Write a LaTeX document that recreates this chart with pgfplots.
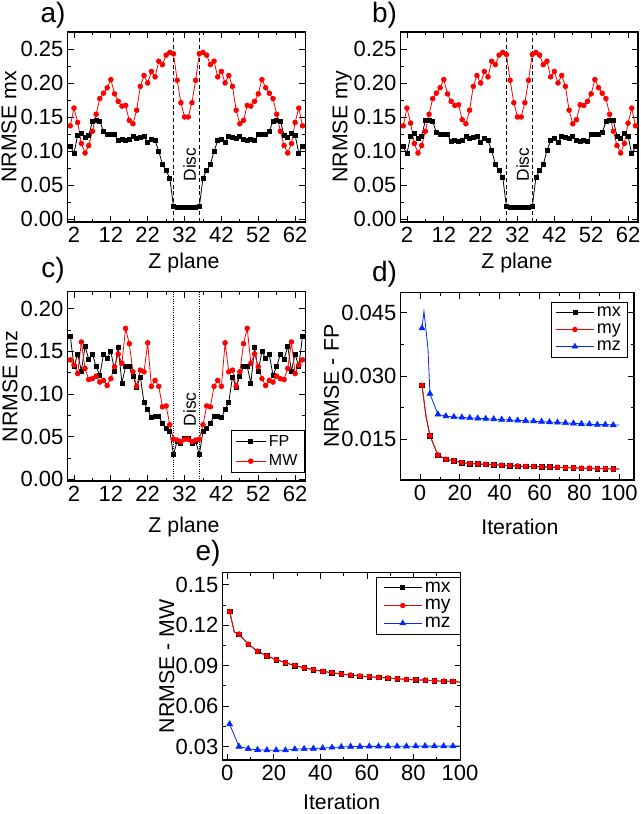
\documentclass[border=0pt]{standalone}
\usepackage{fontspec}
\setmainfont{Liberation Sans}
\usepackage{pgfplots}
\usepackage{pgfplotstable}
\pgfplotsset{compat=1.18}

\definecolor{ored}{RGB}{255,0,0}
\definecolor{oblue}{RGB}{0,40,255}

% panel a: Z plane, FP and MW
\pgfplotstableread{
z fp mw
1 0.107 0.137
2 0.097 0.163
3 0.123 0.142
4 0.126 0.111
5 0.120 0.097
6 0.123 0.108
7 0.144 0.129
8 0.145 0.154
9 0.144 0.177
10 0.129 0.185
11 0.125 0.193
12 0.125 0.205
13 0.124 0.184
14 0.115 0.173
15 0.117 0.166
16 0.115 0.167
17 0.117 0.145
18 0.122 0.140
19 0.119 0.160
20 0.120 0.195
21 0.122 0.211
22 0.112 0.200
23 0.117 0.217
24 0.115 0.209
25 0.100 0.232
26 0.080 0.227
27 0.071 0.241
28 0.060 0.245
29 0.018 0.243
30 0.017 0.204
31 0.017 0.171
32 0.017 0.150
33 0.017 0.150
34 0.017 0.171
35 0.017 0.204
36 0.018 0.243
37 0.060 0.245
38 0.071 0.241
39 0.080 0.227
40 0.100 0.232
41 0.115 0.209
42 0.117 0.217
43 0.112 0.200
44 0.122 0.211
45 0.120 0.195
46 0.119 0.160
47 0.122 0.140
48 0.117 0.145
49 0.115 0.167
50 0.117 0.166
51 0.115 0.173
52 0.124 0.184
53 0.125 0.205
54 0.125 0.193
55 0.129 0.185
56 0.144 0.177
57 0.145 0.154
58 0.144 0.129
59 0.123 0.108
60 0.120 0.097
61 0.126 0.111
62 0.123 0.142
63 0.097 0.163
64 0.107 0.137
}\tabA

% panel b
\pgfplotstableread{
z fp mw
1 0.106 0.137
2 0.096 0.163
3 0.122 0.141
4 0.126 0.111
5 0.119 0.097
6 0.122 0.108
7 0.145 0.129
8 0.145 0.154
9 0.143 0.177
10 0.127 0.185
11 0.124 0.193
12 0.124 0.205
13 0.124 0.184
14 0.114 0.173
15 0.116 0.167
16 0.114 0.168
17 0.116 0.146
18 0.121 0.140
19 0.119 0.160
20 0.120 0.195
21 0.122 0.211
22 0.112 0.200
23 0.118 0.217
24 0.115 0.209
25 0.101 0.232
26 0.080 0.227
27 0.071 0.241
28 0.061 0.245
29 0.018 0.242
30 0.017 0.204
31 0.017 0.171
32 0.017 0.150
33 0.017 0.150
34 0.017 0.171
35 0.017 0.204
36 0.018 0.242
37 0.061 0.245
38 0.071 0.241
39 0.080 0.227
40 0.101 0.232
41 0.115 0.209
42 0.118 0.217
43 0.112 0.200
44 0.122 0.211
45 0.120 0.195
46 0.119 0.160
47 0.121 0.140
48 0.116 0.146
49 0.114 0.168
50 0.116 0.167
51 0.114 0.173
52 0.124 0.184
53 0.124 0.205
54 0.124 0.193
55 0.127 0.185
56 0.143 0.177
57 0.145 0.154
58 0.145 0.129
59 0.122 0.108
60 0.119 0.097
61 0.126 0.111
62 0.122 0.141
63 0.096 0.163
64 0.106 0.137
}\tabB

% panel c
\pgfplotstableread{
z fp mw
1 0.168 0.140
2 0.132 0.134
3 0.147 0.124
4 0.127 0.161
5 0.156 0.130
6 0.141 0.117
7 0.147 0.118
8 0.132 0.121
9 0.122 0.114
10 0.146 0.116
11 0.142 0.110
12 0.150 0.118
13 0.127 0.132
14 0.155 0.147
15 0.113 0.136
16 0.132 0.177
17 0.132 0.159
18 0.121 0.126
19 0.108 0.109
20 0.120 0.128
21 0.090 0.126
22 0.082 0.160
23 0.072 0.109
24 0.074 0.116
25 0.074 0.109
26 0.066 0.085
27 0.060 0.086
28 0.056 0.064
29 0.029 0.047
30 0.045 0.046
31 0.042 0.044
32 0.048 0.047
33 0.048 0.047
34 0.042 0.044
35 0.045 0.046
36 0.029 0.047
37 0.056 0.064
38 0.060 0.086
39 0.066 0.085
40 0.074 0.109
41 0.074 0.116
42 0.072 0.109
43 0.082 0.160
44 0.090 0.126
45 0.120 0.128
46 0.108 0.109
47 0.121 0.126
48 0.132 0.159
49 0.132 0.177
50 0.113 0.136
51 0.155 0.147
52 0.127 0.132
53 0.150 0.118
54 0.142 0.110
55 0.146 0.116
56 0.122 0.114
57 0.132 0.121
58 0.147 0.118
59 0.141 0.117
60 0.156 0.130
61 0.127 0.161
62 0.147 0.124
63 0.132 0.134
64 0.168 0.140
}\tabC

% panel d: mx and my coincide
\pgfplotstableread{
it mx my
1 0.0278 0.0278
3 0.0205 0.0205
5 0.0159 0.0159
9 0.0113 0.0113
13 0.0103 0.0103
17 0.0099 0.0099
21 0.0095 0.0095
25 0.0093 0.0093
29 0.0092 0.0092
33 0.0091 0.0091
37 0.0090 0.0090
41 0.0089 0.0089
45 0.0088 0.0088
49 0.0087 0.0087
53 0.0086 0.0086
57 0.0086 0.0086
61 0.0085 0.0085
65 0.0085 0.0085
69 0.0084 0.0084
73 0.0083 0.0083
77 0.0083 0.0083
81 0.0082 0.0082
85 0.0082 0.0082
89 0.0081 0.0081
93 0.0081 0.0081
97 0.0080 0.0080
100 0.0080 0.0080
}\tabDxy

\pgfplotstableread{
it mz
1 0.0413
2 0.0453
4 0.0365
5 0.0258
9 0.0209
13 0.0205
17 0.0203
21 0.0202
25 0.0201
29 0.0200
33 0.0199
37 0.0198
41 0.0197
45 0.0196
49 0.0195
53 0.0194
57 0.0193
61 0.0192
65 0.0191
69 0.0190
73 0.0189
77 0.0188
81 0.0187
85 0.0186
89 0.0185
93 0.0185
97 0.0184
100 0.0184
}\tabDz

% panel e
\pgfplotstableread{
it mx my
1 0.1302 0.1302
3 0.1150 0.1150
5 0.1134 0.1134
9 0.1059 0.1059
13 0.1007 0.1007
17 0.0972 0.0972
21 0.0945 0.0945
25 0.0922 0.0922
29 0.0900 0.0900
33 0.0885 0.0885
37 0.0870 0.0870
41 0.0858 0.0858
45 0.0848 0.0848
49 0.0838 0.0838
53 0.0830 0.0830
57 0.0823 0.0823
61 0.0818 0.0818
65 0.0813 0.0813
69 0.0808 0.0808
73 0.0803 0.0803
77 0.0798 0.0798
81 0.0795 0.0795
85 0.0793 0.0793
89 0.0788 0.0788
93 0.0785 0.0785
97 0.0783 0.0783
100 0.0778 0.0778
}\tabExy

\pgfplotstableread{
it mz
1 0.0466
5 0.0300
9 0.0283
13 0.0276
17 0.0273
21 0.0273
25 0.0273
29 0.0280
33 0.0283
37 0.0285
41 0.0288
45 0.0293
49 0.0297
53 0.0300
57 0.0300
61 0.0301
65 0.0301
69 0.0302
73 0.0302
77 0.0302
81 0.0303
85 0.0303
89 0.0303
93 0.0303
97 0.0303
100 0.0303
}\tabEz

\tikzset{letter/.style={font=\fontsize{21}{21}\selectfont, inner sep=0pt}}

\pgfplotsset{
  panel/.style={
    scale only axis, anchor=south west,
    tick align=inside, minor tick num=1,
    xtick pos=both, ytick pos=both,
    major tick length=4.5pt, minor tick length=2.5pt,
    every tick/.style={black, line width=0.6pt},
    axis line style={line width=0.8pt},
    /pgf/number format/assume math mode=true,
    tick label style={font=\fontsize{16.5}{16.5}\selectfont},
    yticklabel style={inner sep=3pt},
    label style={font=\fontsize{16}{16}\selectfont},
    legend cell align=left,
    scaled y ticks=false,
  },
  yprec/.style={yticklabel style={/pgf/number format/fixed,
    /pgf/number format/fixed zerofill, /pgf/number format/precision=#1}},
  fpline/.style={black, line width=0.6pt, mark=square*, mark size=1.5pt},
  mwline/.style={ored, line width=0.6pt, mark=*, mark size=1.75pt},
  fpline2/.style={black, line width=0.6pt, mark=square*, mark size=1.5pt},
  mwline2/.style={ored, line width=0.6pt, mark=*, mark size=1.7pt},
  mzline/.style={oblue, line width=0.6pt, mark=triangle*, mark size=2.3pt},
  zplane/.style={
    xmin=0.3, xmax=64.7, xtick={2,12,22,32,42,52,62},
    xlabel={Z plane}, yprec=2,
  },
  bigleg/.style={
    legend style={font=\fontsize{#1}{#1}\selectfont, draw=black,
      line width=0.5pt, inner xsep=3pt, inner ysep=1.5pt, row sep=0pt},
    legend image code/.code={\draw[mark repeat=2, mark phase=2, ##1]
      plot coordinates {(0cm,0cm) (0.5cm,0cm) (1cm,0cm)};}},
  marks4/.style={only marks, forget plot, x filter/.expression={mod(x-1,4)==0 ? x : nan}},
}

\begin{document}
\begin{tikzpicture}
\useasboundingbox (0,0) rectangle (480pt,-610.5pt);

% a)
\begin{axis}[panel, zplane, at={(50.8pt,-166.5pt)}, width=178pt, height=142.5pt,
  ymin=-0.0045, ymax=0.275, ytick={0,0.05,0.1,0.15,0.2,0.25},
  ylabel={NRMSE mx},
  xlabel style={at={(axis description cs:0.49,-0.216)}, anchor=center},
  ylabel style={at={(axis description cs:-0.247,0.5)}, anchor=center}]
\draw[densely dashed, line width=0.6pt] (axis cs:29,-0.0045) -- (axis cs:29,0.275);
\draw[densely dashed, line width=0.6pt] (axis cs:36,-0.0045) -- (axis cs:36,0.275);
\addplot[fpline] table[x=z, y=fp] {\tabA};
\addplot[mwline] table[x=z, y=mw] {\tabA};
\node[rotate=90, font=\fontsize{13}{13}\selectfont] at (axis cs:33.4,0.08) {Disc};
\end{axis}

% b)
\begin{axis}[panel, zplane, at={(300.5pt,-166.5pt)}, width=178pt, height=142.5pt,
  ymin=-0.0045, ymax=0.275, ytick={0,0.05,0.1,0.15,0.2,0.25},
  ylabel={NRMSE my},
  xlabel style={at={(axis description cs:0.49,-0.216)}, anchor=center},
  ylabel style={at={(axis description cs:-0.247,0.5)}, anchor=center}]
\draw[densely dashed, line width=0.6pt] (axis cs:29,-0.0045) -- (axis cs:29,0.275);
\draw[densely dashed, line width=0.6pt] (axis cs:36,-0.0045) -- (axis cs:36,0.275);
\addplot[fpline] table[x=z, y=fp] {\tabB};
\addplot[mwline] table[x=z, y=mw] {\tabB};
\node[rotate=90, font=\fontsize{13}{13}\selectfont] at (axis cs:33.4,0.08) {Disc};
\end{axis}

% c)
\begin{axis}[panel, zplane, at={(50.8pt,-360.75pt)}, width=178pt, height=142pt,
  ymin=-0.002, ymax=0.22, ytick={0,0.05,0.1,0.15,0.2},
  ylabel={NRMSE mz},
  xlabel style={at={(axis description cs:0.49,-0.241)}, anchor=center},
  ylabel style={at={(axis description cs:-0.243,0.5)}, anchor=center},
  legend style={at={(axis description cs:0.997,0.044)}, anchor=south east,
    font=\fontsize{12}{12}\selectfont, draw=black, line width=0.5pt,
    inner xsep=3pt, inner ysep=1.5pt, row sep=1pt},
  legend image code/.code={\draw[mark repeat=2, mark phase=2, #1]
    plot coordinates {(0cm,0cm) (0.4cm,0cm) (0.8cm,0cm)};}]
\draw[densely dotted, line width=0.7pt] (axis cs:29,-0.002) -- (axis cs:29,0.22);
\draw[densely dotted, line width=0.7pt] (axis cs:36,-0.002) -- (axis cs:36,0.22);
\addplot[fpline] table[x=z, y=fp] {\tabC};
\addplot[mwline] table[x=z, y=mw] {\tabC};
\node[rotate=90, font=\fontsize{13}{13}\selectfont] at (axis cs:33.4,0.082) {Disc};
\legend{FP, MW}
\end{axis}

% d)
\begin{axis}[panel, bigleg=13.5, at={(300.5pt,-360pt)}, width=175pt, height=140.5pt,
  xmin=-9.7, xmax=107.4, xtick={0,20,40,60,80,100},
  ymin=0.0054, ymax=0.0497, ytick={0.015,0.030,0.045}, yprec=3,
  xlabel={Iteration}, ylabel={NRMSE - FP},
  xlabel style={at={(axis description cs:0.511,-0.249)}, anchor=center},
  ylabel style={at={(axis description cs:-0.296,0.5)}, anchor=center},
  legend style={at={(axis description cs:0.974,0.952)}, anchor=north east}]
\addplot[black, line width=0.6pt, forget plot] table[x=it, y=mx] {\tabDxy};
\addplot[black, mark=square*, mark size=1.7pt, marks4] table[x=it, y=mx] {\tabDxy};
\addplot[ored, line width=0.6pt, forget plot] table[x=it, y=my] {\tabDxy};
\addplot[ored, mark=*, mark size=1.9pt, marks4] table[x=it, y=my] {\tabDxy};
\addplot[oblue, line width=0.6pt, forget plot] table[x=it, y=mz] {\tabDz};
\addplot[oblue, mark=triangle*, mark size=2.6pt, marks4] table[x=it, y=mz] {\tabDz};
\addlegendimage{fpline2}\addlegendentry{mx}
\addlegendimage{mwline2}\addlegendentry{my}
\addlegendimage{mzline}\addlegendentry{mz}
\end{axis}

% e)
\begin{axis}[panel, bigleg=14.5, at={(167pt,-570pt)}, width=178.5pt, height=140.5pt,
  xmin=-2, xmax=100.3, xtick={0,20,40,60,80,100},
  ymin=0.020, ymax=0.159, ytick={0.03,0.06,0.09,0.12,0.15}, yprec=2,
  xlabel={Iteration}, ylabel={NRMSE - MW},
  xlabel style={at={(axis description cs:0.5,-0.223)}, anchor=center},
  ylabel style={at={(axis description cs:-0.235,0.5)}, anchor=center},
  legend style={at={(axis description cs:0.998,0.979)}, anchor=north east,
    inner xsep=5pt}]
\addplot[black, line width=0.6pt, forget plot] table[x=it, y=mx] {\tabExy};
\addplot[black, mark=square*, mark size=1.7pt, marks4] table[x=it, y=mx] {\tabExy};
\addplot[ored, line width=0.6pt, forget plot] table[x=it, y=my] {\tabExy};
\addplot[ored, mark=*, mark size=1.9pt, marks4] table[x=it, y=my] {\tabExy};
\addplot[oblue, line width=0.6pt, forget plot] table[x=it, y=mz] {\tabEz};
\addplot[oblue, mark=triangle*, mark size=2.6pt, marks4] table[x=it, y=mz] {\tabEz};
\addlegendimage{fpline2}\addlegendentry{mx}
\addlegendimage{mwline2}\addlegendentry{my}
\addlegendimage{mzline}\addlegendentry{mz}
\end{axis}

% panel letters
\node[letter] at (39.75pt,-11.8pt) {a)};
\node[letter] at (288.4pt,-11.8pt) {b)};
\node[letter] at (39.75pt,-202.5pt) {c)};
\node[letter] at (288.4pt,-205.5pt) {d)};
\node[letter] at (156pt,-414.75pt) {e)};
\end{tikzpicture}
\end{document}
